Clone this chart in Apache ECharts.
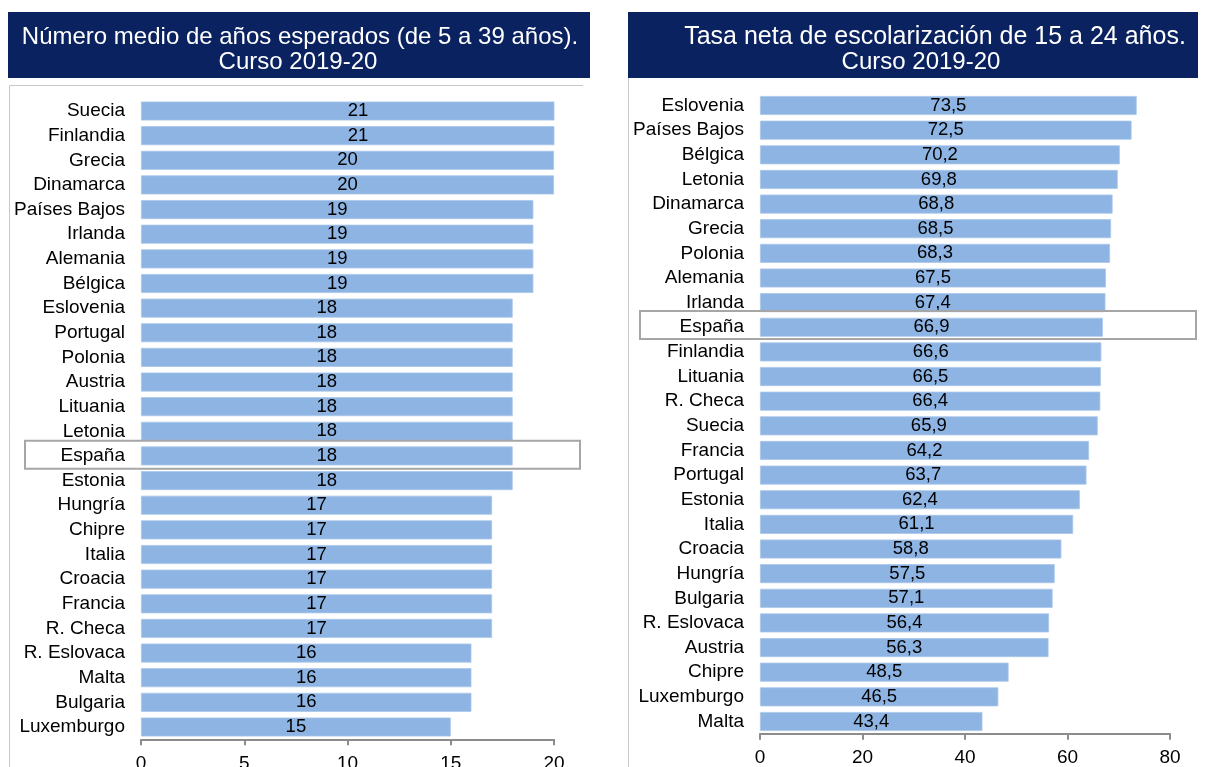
<!DOCTYPE html>
<html>
<head>
<meta charset="utf-8">
<script src="https://cdn.jsdelivr.net/npm/echarts@6/dist/echarts.min.js"></script>
<style>
html,body{margin:0;padding:0;background:#fff;}
#main{width:1205px;height:767px;}
</style>
</head>
<body>
<div id="main"></div>
<script>
// ---- Data ----
const leftTitle1 = 'Número medio de años esperados (de 5 a 39 años).';
const leftTitle2 = 'Curso 2019-20';
const rightTitle1 = 'Tasa neta de escolarización de 15 a 24 años.';
const rightTitle2 = 'Curso 2019-20';

const leftCategories = ['Suecia','Finlandia','Grecia','Dinamarca','Países Bajos','Irlanda','Alemania','Bélgica','Eslovenia','Portugal','Polonia','Austria','Lituania','Letonia','España','Estonia','Hungría','Chipre','Italia','Croacia','Francia','R. Checa','R. Eslovaca','Malta','Bulgaria','Luxemburgo'];
const leftValues = [21,21,20,20,19,19,19,19,18,18,18,18,18,18,18,18,17,17,17,17,17,17,16,16,16,15];
const leftTicks = [0,5,10,15,20];

const rightCategories = ['Eslovenia','Países Bajos','Bélgica','Letonia','Dinamarca','Grecia','Polonia','Alemania','Irlanda','España','Finlandia','Lituania','R. Checa','Suecia','Francia','Portugal','Estonia','Italia','Croacia','Hungría','Bulgaria','R. Eslovaca','Austria','Chipre','Luxemburgo','Malta'];
const rightValues = [73.5,72.5,70.2,69.8,68.8,68.5,68.3,67.5,67.4,66.9,66.6,66.5,66.4,65.9,64.2,63.7,62.4,61.1,58.8,57.5,57.1,56.4,56.3,48.5,46.5,43.4];
const rightTicks = [0,20,40,60,80];

const highlight = 'España';

// ---- Layout / style ----
const FONT = '"Liberation Sans", Arial, sans-serif';
const NAVY = '#0b2260';
const BAR = '#8db4e3';
const L = {left:141, width:413, top:98.7, height:640.6};
const R = {left:760, width:410, top:93.2, height:640.6};

function mkData(vals, max, width){
  const ppu = width / max;
  return vals.map(v => {
    if (v > max) return {value:v, label:{offset:[(v-max)*ppu/2,0]}};
    return v;
  });
}

const chart = echarts.init(document.getElementById('main'), null, {renderer:'canvas'});

function xAxisCfg(grid, ticks, margin){
  return {
    type:'value', gridIndex:grid, min:ticks[0], max:ticks[ticks.length-1],
    interval:ticks[1]-ticks[0],
    axisLine:{show:true, lineStyle:{color:'#8c8c8c', width:2}},
    axisTick:{show:true, length:6, lineStyle:{color:'#8c8c8c', width:2}},
    splitLine:{show:false},
    axisLabel:{color:'#000', fontSize:19, fontFamily:FONT, margin:margin, hideOverlap:false}
  };
}
function yAxisCfg(grid, cats){
  return {
    type:'category', gridIndex:grid, data:cats, inverse:true,
    axisLine:{show:false}, axisTick:{show:false},
    axisLabel:{color:'#000', fontSize:19, fontFamily:FONT, margin:16, interval:0, hideOverlap:false}
  };
}
function barSeries(idx, data, fmt){
  return {
    type:'bar', xAxisIndex:idx, yAxisIndex:idx, data:data, barWidth:19,
    itemStyle:{color:BAR, borderColor:'#a9c6ea', borderWidth:0.8},
    clip:true, silent:true, animation:false,
    label:{show:true, position:'inside', color:'#000', fontSize:18.5, fontFamily:FONT, formatter:fmt}
  };
}

const hiL = leftCategories.indexOf(highlight);
const hiR = rightCategories.indexOf(highlight);
const bandL = L.height/leftCategories.length;
const bandR = R.height/rightCategories.length;

chart.setOption({
  animation:false,
  backgroundColor:'#fff',
  grid:[
    {left:L.left, top:L.top, width:L.width, height:L.height, containLabel:false, outerBoundsMode:'none'},
    {left:R.left, top:R.top, width:R.width, height:R.height, containLabel:false, outerBoundsMode:'none'}
  ],
  xAxis:[xAxisCfg(0,leftTicks,15), xAxisCfg(1,rightTicks,14)],
  yAxis:[yAxisCfg(0,leftCategories), yAxisCfg(1,rightCategories)],
  series:[
    barSeries(0, mkData(leftValues, leftTicks[leftTicks.length-1], L.width), p => String(Math.round(p.value))),
    barSeries(1, mkData(rightValues, rightTicks[rightTicks.length-1], R.width), p => p.value.toFixed(1).replace('.', ','))
  ],
  graphic:[
    // title boxes
    {type:'rect', shape:{x:8, y:12, width:582, height:66}, style:{fill:NAVY}, z:10},
    {type:'rect', shape:{x:628, y:12, width:570, height:66}, style:{fill:NAVY}, z:10},
    {type:'text', style:{text:leftTitle1, x:300, y:37, textAlign:'center', textVerticalAlign:'middle', fill:'#fff', font:'24px '+FONT}, z:11},
    {type:'text', style:{text:leftTitle2, x:298, y:62, textAlign:'center', textVerticalAlign:'middle', fill:'#fff', font:'24px '+FONT}, z:11},
    {type:'text', style:{text:rightTitle1, x:935, y:37, textAlign:'center', textVerticalAlign:'middle', fill:'#fff', font:'25px '+FONT}, z:11},
    {type:'text', style:{text:rightTitle2, x:921, y:62, textAlign:'center', textVerticalAlign:'middle', fill:'#fff', font:'24px '+FONT}, z:11},
    // panel borders
    {type:'polyline', shape:{points:[[583,85.5],[9.5,85.5],[9.5,767]]}, style:{stroke:'#c8c8c8', lineWidth:1, fill:null}, z:5},
    {type:'line', shape:{x1:628.5, y1:78, x2:628.5, y2:767}, style:{stroke:'#c8c8c8', lineWidth:1}, z:5},
    // highlight boxes
    {type:'rect', shape:{x:25, y:L.top + bandL*hiL - 3, width:555, height:28}, style:{fill:null, stroke:'#a6a6a6', lineWidth:2}, z:20},
    {type:'rect', shape:{x:640, y:R.top + bandR*hiR - 4, width:556, height:28}, style:{fill:null, stroke:'#a6a6a6', lineWidth:2}, z:20}
  ]
});
</script>
</body>
</html>
